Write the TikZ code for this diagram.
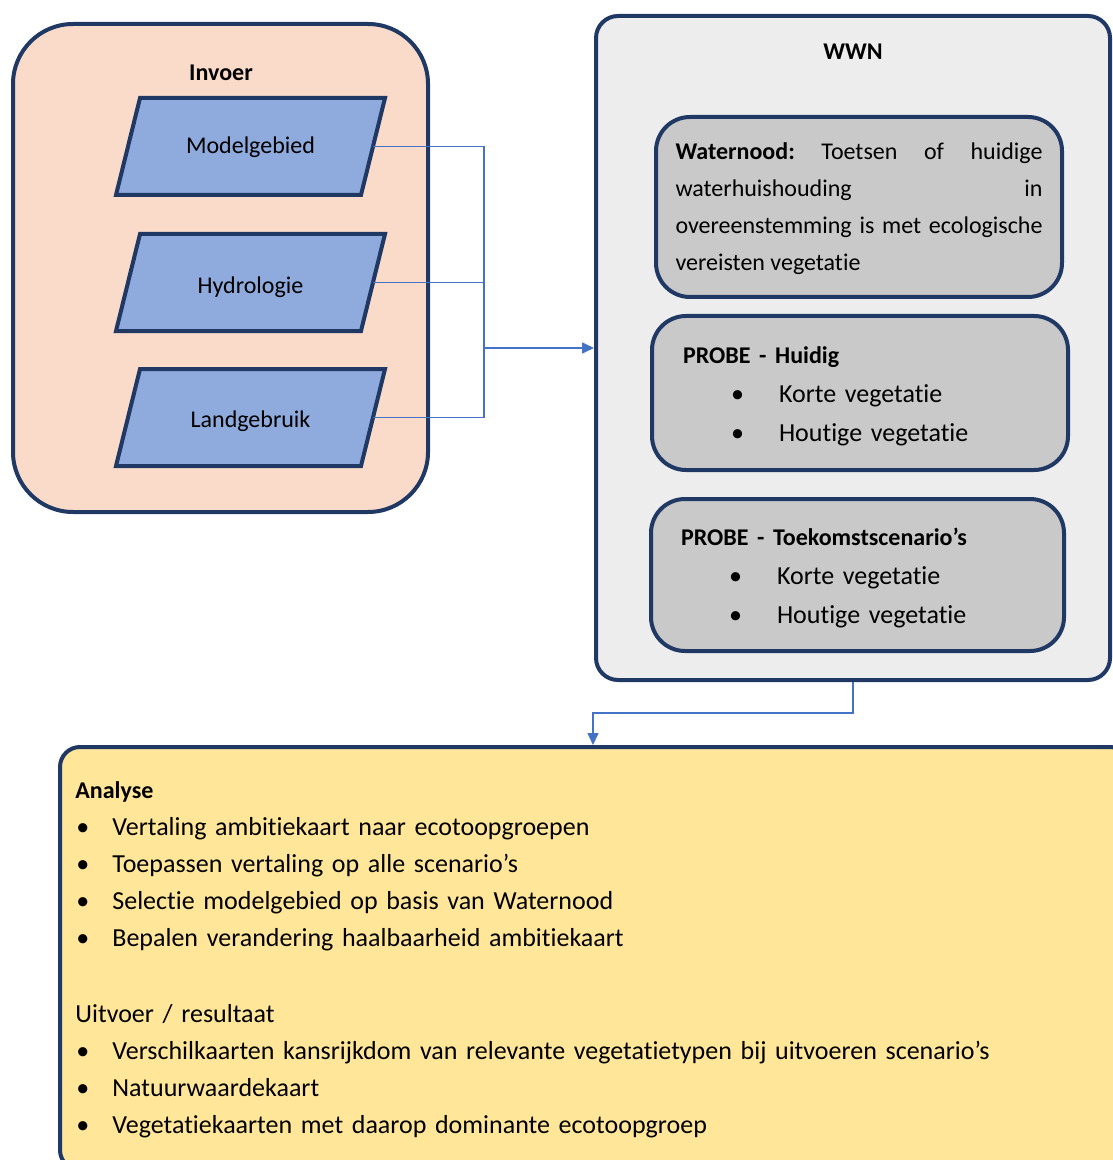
\documentclass[tikz,border=0pt]{standalone}
\usepackage{fontspec}
\setmainfont{Carlito}[Ligatures=NoCommon]
\usetikzlibrary{positioning,arrows.meta,calc,shapes.geometric}
\definecolor{wwnNavy}{HTML}{203864}
\definecolor{wwnPerzik}{HTML}{FADBCA}
\definecolor{wwnBlauw}{HTML}{8FAADC}
\definecolor{wwnLijn}{HTML}{4472C4}
\definecolor{wwnGrijsLicht}{HTML}{EDEDED}
\definecolor{wwnGrijs}{HTML}{C9C9C9}
\definecolor{wwnGeel}{HTML}{FFE699}
\newcommand{\opsom}[3]{\hspace*{#1}\makebox[#2][l]{\textbullet}#3}
\newcommand{\omlaag}[2]{\raisebox{-#1}[\height][\depth]{#2}}

\begin{document}
\begin{tikzpicture}[x=0.5pt, y=-0.5pt,
        box/.style={draw=wwnNavy, line width=2pt, inner sep=0pt},
        inshape/.style={draw=wwnNavy, line width=2pt, fill=wwnBlauw},
        inbox/.style={inner sep=0pt, minimum width=122.5pt, minimum height=48.5pt, font=\fontsize{12}{14}\selectfont},
        probe/.style={box, fill=wwnGrijs, rounded corners=17pt, align=left, font=\fontsize{13}{19.5}\selectfont},
        title/.style={font=\fontsize{12}{14}\selectfont\bfseries},
        link/.style={draw=wwnLijn, line width=0.75pt},
        arr/.style={link, -{Triangle[length=6pt, width=5.5pt]}}
    ]
        \useasboundingbox (0,0) rectangle (1112,1160);

        % --- Invoer ---
        \node[box, fill=wwnPerzik, rounded corners=30pt, minimum width=207.5pt, minimum height=244pt] (invoer) at (220.5,268) {};
        \node[title] (invoerlabel) at (221,73) {Invoer};
        \foreach \y in {146.5,282.5,417.5}
            \draw[inshape] (140,\y-48.5) -- (385,\y-48.5) -- (361,\y+48.5) -- (116,\y+48.5) -- cycle;
        \node[inbox] (modelgebied) at (250.5,146.5) {\omlaag{0.5pt}{Modelgebied}};
        \node[inbox] (hydrologie) at (250.5,282.5) {\omlaag{2.5pt}{Hydrologie}};
        \node[inbox] (landgebruik) at (250.5,417.5) {\omlaag{2pt}{Landgebruik}};

        % --- WWN ---
        \node[box, fill=wwnGrijsLicht, rounded corners=11pt, minimum width=257pt, minimum height=332pt] (wwn) at (853,348) {};
        \node[title] (wwnlabel) at (853,52) {WWN};
        \node[box, fill=wwnGrijs, rounded corners=17pt, minimum width=203pt, minimum height=90pt, text width=183.5pt, align=justify, font=\fontsize{12}{18.5}\selectfont\frenchspacing] (waternood) at (859,207)
            {\rule{0pt}{10.5pt}\textbf{Waternood:} Toetsen of huidige\linebreak waterhuishouding in\linebreak overeenstemming is met ecologische\linebreak vereisten vegetatie};
        \node[probe, minimum width=208pt, minimum height=77pt, text width=177pt] (huidig) at (860,393)
            {\rule{0pt}{12pt}{\fontsize{12}{19.5}\selectfont\bfseries PROBE - Huidig}\\
             \opsom{24pt}{24pt}{Korte vegetatie}\\
             \opsom{24pt}{24pt}{Houtige vegetatie}};
        \node[probe, minimum width=206.5pt, minimum height=76pt, text width=176.5pt] (toekomst) at (857.5,575)
            {\rule{0pt}{12pt}{\fontsize{12}{19.5}\selectfont\bfseries PROBE - Toekomstscenario’s}\\
             \opsom{24pt}{24pt}{Korte vegetatie}\\
             \opsom{24pt}{24pt}{Houtige vegetatie}};

        % --- Analyse en resultaat ---
        \node[box, fill=wwnGeel, rounded corners=10pt, minimum width=535pt, minimum height=211.5pt] (resultaat) at (595,958.5) {};
        \node[below right=18pt and 8.5pt of resultaat.north west, inner sep=0pt, text width=500pt, align=left, font=\fontsize{13}{18.5}\selectfont] (analyse)
            {{\fontsize{12}{18.5}\selectfont\bfseries Analyse}\\
             \opsom{0.5pt}{18pt}{Vertaling ambitiekaart naar ecotoopgroepen}\\
             \opsom{0.5pt}{18pt}{Toepassen vertaling op alle scenario’s}\\
             \opsom{0.5pt}{18pt}{Selectie modelgebied op basis van Waternood}\\
             \opsom{0.5pt}{18pt}{Bepalen verandering haalbaarheid ambitiekaart}\\[19.5pt]
             Uitvoer / resultaat\\
             \opsom{0.5pt}{18pt}{Verschilkaarten kansrijkdom van relevante vegetatietypen bij uitvoeren scenario’s}\\
             \opsom{0.5pt}{18pt}{Natuurwaardekaart}\\
             \opsom{0.5pt}{18pt}{Vegetatiekaarten met daarop dominante ecotoopgroep}};

        % Verbindingen
        \coordinate (knoop) at (484,348);
        \coordinate (afslag) at (593,713);
        \draw[link] (modelgebied.east) -| (knoop);
        \draw[link] (landgebruik.east) -| (knoop);
        \draw[link] (hydrologie.east) -- (hydrologie.east -| knoop);
        \draw[arr] (knoop) -- (knoop -| wwn.west);
        \draw[arr] (wwn.south) |- (afslag) -- (afslag |- resultaat.north);
    \end{tikzpicture}
\end{document}
